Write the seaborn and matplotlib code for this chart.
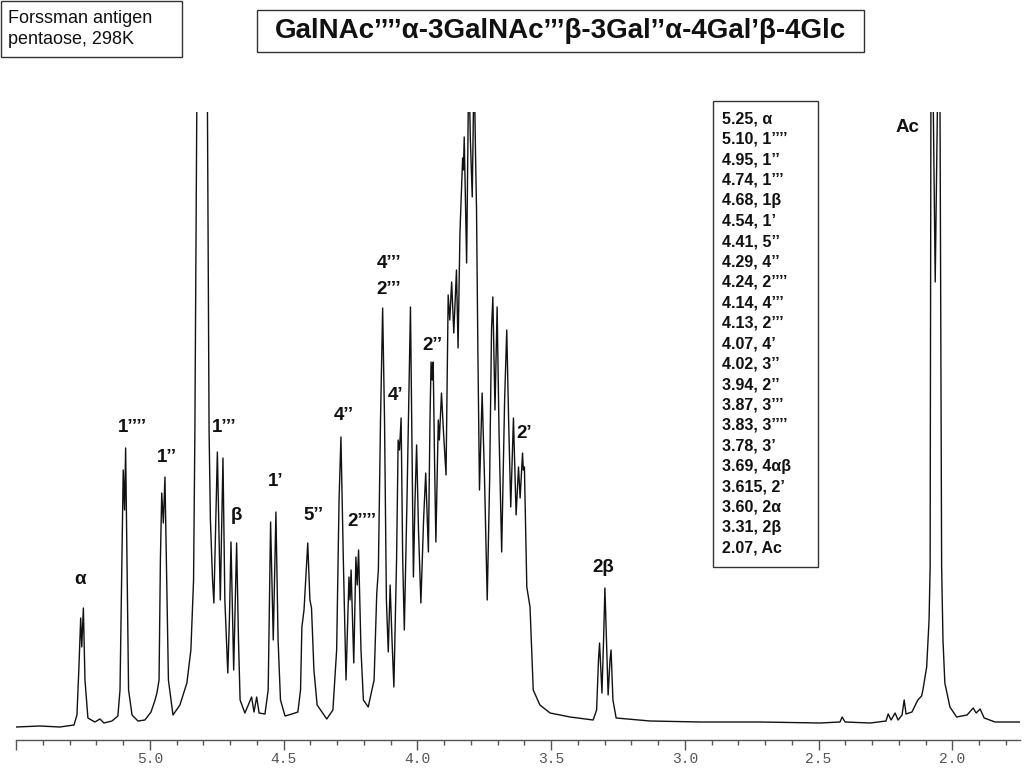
import matplotlib
matplotlib.use('Agg')
import matplotlib.pyplot as plt
import matplotlib.patches as patches
import seaborn as sns
import pandas as pd

# spectrum trace: chemical shift (ppm) and intensity (a.u.)
ppm = [5.500, 5.411, 5.337, 5.284, 5.273, 5.266, 5.259, 5.255, 5.249, 5.243,
       5.232, 5.206, 5.187, 5.172, 5.142, 5.120, 5.112, 5.105, 5.100, 5.095,
       5.091, 5.086, 5.080, 5.067, 5.045, 5.019, 4.996, 4.981, 4.974, 4.966,
       4.961, 4.956, 4.950, 4.944, 4.938, 4.931, 4.914, 4.888, 4.862, 4.847,
       4.837, 4.832, 4.825, 4.823, 4.787, 4.785, 4.779, 4.774, 4.766, 4.761,
       4.748, 4.737, 4.727, 4.720, 4.709, 4.703, 4.697, 4.687, 4.676, 4.669,
       4.663, 4.645, 4.620, 4.611, 4.601, 4.592, 4.570, 4.558, 4.549, 4.539,
       4.529, 4.521, 4.512, 4.495, 4.469, 4.447, 4.437, 4.432, 4.424, 4.410,
       4.402, 4.396, 4.387, 4.375, 4.339, 4.316, 4.302, 4.293, 4.286, 4.277,
       4.267, 4.256, 4.252, 4.248, 4.238, 4.230, 4.225, 4.220, 4.211, 4.202,
       4.184, 4.162, 4.152, 4.146, 4.138, 4.130, 4.123, 4.116, 4.109, 4.102,
       4.095, 4.088, 4.078, 4.072, 4.067, 4.061, 4.055, 4.049, 4.039, 4.026,
       4.020, 4.015, 4.009, 4.003, 3.996, 3.987, 3.977, 3.969, 3.959, 3.953,
       3.949, 3.945, 3.941, 3.936, 3.931, 3.922, 3.918, 3.910, 3.903, 3.893,
       3.885, 3.879, 3.872, 3.864, 3.854, 3.848, 3.841, 3.831, 3.828, 3.825,
       3.816, 3.808, 3.802, 3.795, 3.788, 3.783, 3.779, 3.774, 3.768, 3.758,
       3.749, 3.739, 3.730, 3.723, 3.718, 3.710, 3.702, 3.695, 3.685, 3.674,
       3.666, 3.659, 3.651, 3.641, 3.631, 3.622, 3.616, 3.607, 3.604, 3.600,
       3.591, 3.579, 3.567, 3.542, 3.504, 3.429, 3.343, 3.330, 3.323, 3.319,
       3.310, 3.304, 3.299, 3.293, 3.287, 3.280, 3.276, 3.269, 3.257, 3.130,
       2.943, 2.719, 2.494, 2.420, 2.412, 2.401, 2.307, 2.248, 2.240, 2.229,
       2.214, 2.203, 2.188, 2.180, 2.173, 2.151, 2.129, 2.115, 2.110, 2.096,
       2.087, 2.083, 2.080, 2.076, 2.071, 2.064, 2.056, 2.052, 2.046, 2.040,
       2.035, 2.028, 2.009, 1.984, 1.945, 1.922, 1.911, 1.896, 1.881, 1.840,
       1.747]
intensity = [13, 14, 13, 15, 25, 70, 122, 93, 132, 60,
             22, 18, 21, 17, 19, 24, 50, 180, 270, 230,
             292, 180, 50, 25, 19, 20, 28, 40, 47, 60,
             180, 247, 217, 263, 170, 60, 25, 35, 57, 90,
             160, 310, 628, 1500, 1500, 628, 310, 220, 160, 137,
             288, 140, 282, 140, 67, 120, 198, 70, 197, 100,
             40, 27, 43, 28, 43, 27, 26, 50, 218, 100,
             228, 100, 40, 24, 26, 28, 50, 113, 130, 197,
             140, 132, 70, 35, 21, 30, 90, 240, 303, 180,
             60, 163, 140, 170, 77, 183, 155, 190, 90, 40,
             33, 60, 147, 170, 320, 432, 320, 140, 88, 155,
             100, 53, 180, 300, 290, 322, 180, 110, 240, 433,
             290, 163, 240, 295, 210, 137, 220, 267, 188, 320,
             378, 360, 378, 280, 198, 320, 300, 347, 310, 265,
             445, 420, 458, 407, 470, 392, 507, 582, 570, 603,
             477, 680, 600, 543, 680, 590, 530, 390, 250, 347,
             260, 140, 260, 410, 443, 330, 433, 310, 188, 340,
             410, 320, 233, 322, 225, 273, 242, 287, 270, 273,
             153, 133, 50, 35, 27, 23, 20, 30, 80, 97,
             47, 100, 152, 100, 45, 80, 90, 40, 22, 19,
             18, 18, 17, 18, 23, 18, 17, 19, 26, 20,
             27, 20, 25, 40, 26, 28, 40, 44, 50, 73,
             120, 173, 628, 1500, 628, 458, 628, 1500, 628, 173,
             100, 57, 33, 23, 25, 32, 27, 31, 22, 18,
             18]

# peak labels: text, ppm, intensity
peak_labels = ['α', '1’’’’', '1’’', '1’’’', 'β', '1’', '5’’', '4’’', '2’’’’',
               '4’’’', '2’’’', '4’', '2’’', '2’', '2β', 'Ac']
label_ppm = [5.262, 5.064, 4.936, 4.723, 4.678, 4.529, 4.390, 4.274, 4.207,
             4.106, 4.106, 4.080, 3.942, 3.601, 3.306, 2.169]
label_int = [160, 312, 282, 313, 225, 259, 224, 324, 219,
             476, 450, 345, 395, 306, 173, 612]

# assignment table
assignments = ['5.25, α', '5.10, 1’’’’', '4.95, 1’’', '4.74, 1’’’', '4.68, 1β',
               '4.54, 1’', '4.41, 5’’', '4.29, 4’’', '4.24, 2’’’’', '4.14, 4’’’',
               '4.13, 2’’’', '4.07, 4’', '4.02, 3’’', '3.94, 2’’', '3.87, 3’’’',
               '3.83, 3’’’’', '3.78, 3’', '3.69, 4αβ', '3.615, 2’', '3.60, 2α',
               '3.31, 2β', '2.07, Ac']

title = 'GalNAc’’’’α-3GalNAc’’’β-3Gal’’α-4Gal’β-4Glc'
sample = 'Forssman antigen\npentaose, 298K'
xticks = [5.5, 5.0, 4.5, 4.0, 3.5, 3.0, 2.5, 2.0]
xticklabels = ['', '5.0', '4.5', '4.0', '3.5', '3.0', '2.5', '2.0']

df = pd.DataFrame({'ppm': ppm, 'intensity': intensity})

sns.set_theme(style='white')
plt.rcParams['font.family'] = ['Liberation Sans', 'DejaVu Sans']

W, H = 1024, 768
fig = plt.figure(figsize=(W / 100, H / 100), dpi=100)
ax = fig.add_axes([15.7 / W, 1 - 740 / H, (1020 - 15.7) / W, (740 - 112) / H])

sns.lineplot(data=df, x='ppm', y='intensity', ax=ax, sort=False,
             estimator=None, color='#111111', linewidth=1.0)

ax.set_xlim(5.502, 1.747)
ax.set_ylim(0, 628)
for s in ['top', 'left', 'right']:
    ax.spines[s].set_visible(False)
ax.spines['bottom'].set_color('#555555')
ax.spines['bottom'].set_linewidth(1.0)
ax.set_yticks([])
ax.set_xticks(xticks)
ax.set_xticklabels(xticklabels, family='Liberation Mono', fontsize=10.5,
                   color='#555555')
ax.set_xticks([x / 10 for x in range(18, 55)], minor=True)
ax.tick_params(axis='x', which='major', direction='out', length=7, width=1,
               color='#555555', bottom=True, pad=1.5)
ax.tick_params(axis='x', which='minor', direction='out', length=3.5, width=1,
               color='#555555', bottom=True)
ax.set_xlabel('')
ax.set_ylabel('')

for t, xp, yp in zip(peak_labels, label_ppm, label_int):
    ax.text(xp, yp, t, ha='center', va='center', fontsize=13.5,
            fontweight='bold', color='#111111')

# boxes drawn in figure pixels
def fbox(x0, y0, x1, y1):
    fig.patches.append(patches.Rectangle((x0 / W, 1 - y1 / H), (x1 - x0) / W,
                                         (y1 - y0) / H, transform=fig.transFigure,
                                         fill=False, edgecolor='#333333',
                                         linewidth=1.0))

fbox(1, 1, 182, 57)
fig.text(8 / W, 1 - 29 / H, sample, ha='left', va='center', fontsize=13,
         linespacing=1.25, color='#111111')

fbox(257, 10, 864, 52)
fig.text(560 / W, 1 - 31 / H, title, ha='center', va='center', fontsize=20,
         fontweight='bold', color='#111111')

fbox(713, 101, 818, 567)
n = len(assignments)
for i, t in enumerate(assignments):
    yy = 119 + i * (548 - 119) / (n - 1)
    fig.text(722 / W, 1 - yy / H, t, ha='left', va='center', fontsize=11.5,
             fontweight='bold', color='#111111')

fig.savefig('out.png', dpi=100)
